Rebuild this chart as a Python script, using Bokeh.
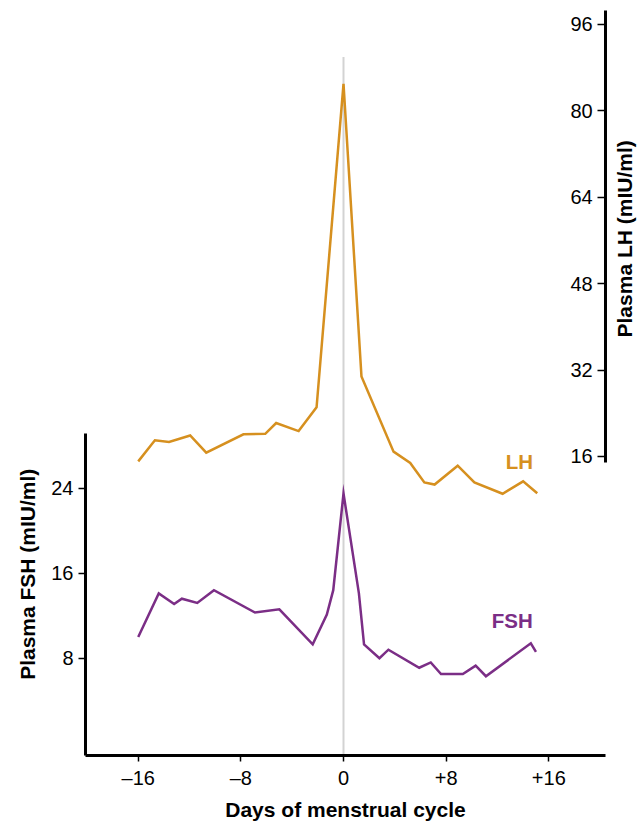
import math
from bokeh.plotting import figure
from bokeh.models import Range1d, LinearAxis, FixedTicker, Label
from bokeh.embed import file_html
from bokeh.resources import INLINE

# ---------------- data ----------------
day_ticks = [-16, -8, 0, 8, 16]
day_tick_labels = ["\u201316", "\u20138", "0", "+8", "+16"]
fsh_ticks = [8, 16, 24]
lh_ticks = [16, 32, 48, 64, 80, 96]

fsh_days = [-16.0, -14.4, -13.2, -12.6, -11.4, -10.1, -6.9, -5.0, -2.4, -1.3, -0.8,
            0.0, 1.2, 1.6, 2.8, 3.5, 5.9, 6.8, 7.6, 9.3, 10.3, 11.1, 14.6, 15.0]
fsh_values = [10.0, 14.1, 13.1, 13.6, 13.2, 14.4, 12.3, 12.6, 9.3, 12.1, 14.4,
              23.5, 14.1, 9.3, 8.0, 8.8, 7.1, 7.6, 6.5, 6.5, 7.3, 6.3, 9.4, 8.6]

lh_days = [-16.0, -14.7, -13.6, -11.95, -10.7, -7.8, -6.1, -5.25, -3.5, -2.1,
           0.0, 1.4, 3.9, 5.2, 6.3, 7.1, 8.9, 10.2, 12.4, 14.0, 15.1]
lh_values = [15.1, 19.0, 18.7, 19.9, 16.7, 20.1, 20.2, 22.2, 20.7, 25.1,
             85.0, 30.8, 16.9, 14.8, 11.2, 10.8, 14.3, 11.2, 9.1, 11.4, 9.2]

ovulation_day = 0
guide_top_lh = 90

# ---------------- style ----------------
ORANGE = "#D6901F"
PURPLE = "#7B2E86"
FONT = "Liberation Sans"

x_lo, x_hi = -20.11, 20.42
fsh_lo, fsh_hi = -1.16, 68.96
lh_lo, lh_hi = -39.37, 98.59

p = figure(frame_width=520, frame_height=745,
           x_range=Range1d(x_lo, x_hi), y_range=Range1d(fsh_lo, fsh_hi),
           x_axis_location=None, y_axis_location=None,
           output_backend="svg", toolbar_location=None,
           min_border_left=85, min_border_right=36,
           min_border_top=10, min_border_bottom=66)
p.extra_y_ranges = {"lh": Range1d(lh_lo, lh_hi)}
p.grid.visible = False
p.outline_line_color = None
p.background_fill_color = "white"
p.border_fill_color = "white"

common = dict(axis_line_width=3, axis_line_color="black",
              major_tick_line_width=1.5, major_tick_line_color="black",
              minor_tick_in=0, minor_tick_out=0,
              major_label_text_font=FONT, major_label_text_font_size="20px",
              major_label_text_color="black")

bottom = LinearAxis(ticker=FixedTicker(ticks=day_ticks),
                    major_label_overrides=dict(zip(day_ticks, day_tick_labels)),
                    major_tick_out=6, major_tick_in=0, major_label_standoff=5,
                    axis_label="Days of menstrual cycle",
                    axis_label_text_font=FONT, axis_label_text_font_style="bold",
                    axis_label_text_font_size="21px", axis_label_text_color="black",
                    axis_label_standoff=6, **common)
p.add_layout(bottom, "below")

left = LinearAxis(ticker=FixedTicker(ticks=fsh_ticks), bounds=(fsh_lo, 29.18),
                  major_tick_out=7, major_tick_in=0, major_label_standoff=5, **common)
p.add_layout(left, "left")

right = LinearAxis(y_range_name="lh", ticker=FixedTicker(ticks=lh_ticks),
                   bounds=(14.94, lh_hi),
                   major_tick_out=0, major_tick_in=8, major_label_standoff=-35, **common)
p.add_layout(right, "right")

# reference line at day 0
p.segment(x0=[ovulation_day], y0=[guide_top_lh], x1=[ovulation_day], y1=[lh_lo],
          y_range_name="lh", line_color="#D3D3D3", line_width=2)

p.line(lh_days, lh_values, y_range_name="lh", line_color=ORANGE, line_width=2.5,
       line_join="miter")
p.line(fsh_days, fsh_values, line_color=PURPLE, line_width=2.5, line_join="miter")

p.add_layout(Label(x=14.77, y=15.0, y_range_name="lh", text="LH",
                   text_align="right", text_baseline="middle",
                   text_font=FONT, text_font_style="bold", text_font_size="20.5px",
                   text_color=ORANGE))
p.add_layout(Label(x=14.75, y=11.5, text="FSH",
                   text_align="right", text_baseline="middle",
                   text_font=FONT, text_font_style="bold", text_font_size="20.5px",
                   text_color=PURPLE))

# vertical axis titles, placed in the side panels so they are not clipped
p.add_layout(Label(x=-24.63, y=15.9,
                   text="Plasma FSH (mIU/ml)", angle=math.pi / 2,
                   text_align="center", text_baseline="middle",
                   text_font=FONT, text_font_style="bold", text_font_size="21px",
                   text_color="black"), "left")
p.add_layout(Label(x=21.9, y=56.3, y_range_name="lh",
                   text="Plasma LH (mIU/ml)", angle=math.pi / 2,
                   text_align="center", text_baseline="middle",
                   text_font=FONT, text_font_style="bold", text_font_size="21px",
                   text_color="black"), "right")

open("out.html", "w").write(file_html(p, INLINE))
